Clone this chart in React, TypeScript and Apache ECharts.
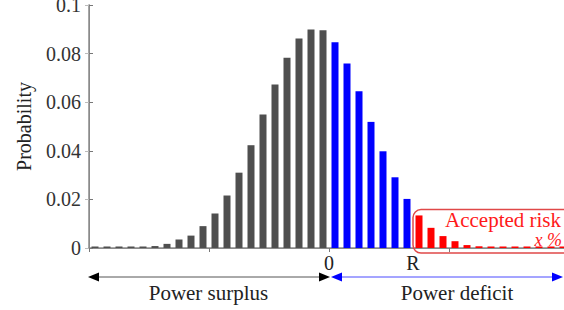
import React, { useEffect, useRef } from "react";
import * as echarts from "echarts";

// Probability of each power bin (left → right)
const surplusValues = [
  0.0003, 0.0003, 0.0003, 0.0003, 0.0003, 0.0008, 0.0017, 0.0035, 0.0051, 0.009,
  0.0142, 0.0216, 0.031, 0.0423, 0.0549, 0.0673, 0.0783, 0.0862, 0.0899, 0.0896,
];
const deficitValues = [0.0847, 0.0759, 0.0645, 0.0519, 0.0398, 0.0291, 0.0202];
const riskValues = [
  0.0134, 0.0083, 0.0049, 0.0028, 0.0012, 0.0007, 0.0003, 0.0003, 0.0003, 0.0003,
  0.0003, 0.0003, 0.0003,
];
const boundaryLabels = ["0", "R"];
const yAxisTitle = "Probability";
const surplusText = "Power surplus";
const deficitText = "Power deficit";
const riskText = "Accepted risk";
const riskPercentText = "x %";

const FONT = "serif";

export default function App() {
  const ref = useRef<HTMLDivElement>(null);

  useEffect(() => {
    if (!ref.current) return;
    const chart = echarts.init(ref.current, undefined, { renderer: "svg" });

    const nSur = surplusValues.length;
    const nDef = deficitValues.length;
    const nAll = nSur + nDef + riskValues.length;
    const zeroPos = nSur;
    const rPos = nSur + nDef;
    const toData = (arr: number[], offset: number) =>
      arr.map((v, i) => [offset + i + 0.5, v]);

    const barCommon = {
      type: "bar" as const,
      barWidth: 7,
      barGap: "-100%",
      barMinHeight: 1.5,
      silent: true,
    };

    chart.setOption({
      animation: false,
      backgroundColor: "#ffffff",
      textStyle: { fontFamily: FONT },
      grid: { left: 89, right: -5, top: 5, bottom: 62, outerBoundsMode: "none" },
      xAxis: [
        {
          type: "value",
          min: 0,
          max: nAll,
          position: "bottom",
          axisLine: { show: true, lineStyle: { color: "#8a8a8a", width: 1 } },
          axisTick: { show: false },
          splitLine: { show: false },
          axisLabel: {
            customValues: [zeroPos, rPos],
            formatter: (v: number) => (v === zeroPos ? boundaryLabels[0] : boundaryLabels[1]),
            fontSize: 20,
            fontFamily: FONT,
            color: "#222",
            margin: 5,
          },
        },
        {
          type: "value",
          min: 0,
          max: nAll,
          interval: 10,
          position: "top",
          axisLine: { show: true, lineStyle: { color: "#8a8a8a", width: 1.5 } },
          axisTick: { show: true, inside: true, length: 4, lineStyle: { color: "#777" } },
          axisLabel: { show: false },
          splitLine: { show: false },
        },
      ],
      yAxis: [
        {
          type: "value",
          min: 0,
          max: 0.1,
          interval: 0.02,
          name: yAxisTitle,
          nameLocation: "middle",
          nameGap: 55,
          nameTextStyle: { fontSize: 20, fontFamily: FONT, color: "#222" },
          axisLine: { show: true, lineStyle: { color: "#8a8a8a", width: 1.5 } },
          axisTick: { show: true, inside: true, length: 4, lineStyle: { color: "#777" } },
          axisLabel: { fontSize: 20, fontFamily: FONT, color: "#333", margin: 8 },
          splitLine: { show: false },
        },
        {
          type: "value",
          min: 0,
          max: 0.1,
          interval: 0.02,
          position: "right",
          axisLine: { show: true, lineStyle: { color: "#8a8a8a" } },
          axisTick: { show: true, inside: true, length: 4, lineStyle: { color: "#bbb" } },
          axisLabel: { show: false },
          splitLine: { show: false },
        },
      ],
      series: [
        { ...barCommon, name: "surplus", data: toData(surplusValues, 0), itemStyle: { color: "#4f4f4f" } },
        { ...barCommon, name: "deficit", data: toData(deficitValues, nSur), itemStyle: { color: "#0000ff" } },
        { ...barCommon, name: "risk", data: toData(riskValues, nSur + nDef), itemStyle: { color: "#ff0000" } },
      ],
    });

    const px = (v: number) => chart.convertToPixel({ xAxisIndex: 0 }, v) as number;
    const py = (v: number) => chart.convertToPixel({ yAxisIndex: 0 }, v) as number;
    const W = chart.getWidth();
    const xLeft = px(0) - 1;
    const xZero = px(zeroPos);
    const xR = px(rPos);
    const xRight = Math.min(px(nAll), W - 1);
    const yArrow = 277;
    const aL = 11;
    const aH = 4.5;

    chart.setOption({
      graphic: [
        // Power surplus arrow
        { type: "line", shape: { x1: xLeft + aL, y1: yArrow, x2: xZero + 1 - aL, y2: yArrow }, style: { stroke: "#555", lineWidth: 1 } },
        { type: "polygon", shape: { points: [[xLeft, yArrow], [xLeft + aL, yArrow - aH], [xLeft + aL, yArrow + aH]] }, style: { fill: "#000" } },
        { type: "polygon", shape: { points: [[xZero + 1, yArrow], [xZero + 1 - aL, yArrow - aH], [xZero + 1 - aL, yArrow + aH]] }, style: { fill: "#000" } },
        // Power deficit arrow
        { type: "line", shape: { x1: xZero + 2 + aL, y1: yArrow, x2: xRight - aL, y2: yArrow }, style: { stroke: "#4a4aff", lineWidth: 1 } },
        { type: "polygon", shape: { points: [[xZero + 2, yArrow], [xZero + 2 + aL, yArrow - aH], [xZero + 2 + aL, yArrow + aH]] }, style: { fill: "#0000ff" } },
        { type: "polygon", shape: { points: [[xRight, yArrow], [xRight - aL, yArrow - aH], [xRight - aL, yArrow + aH]] }, style: { fill: "#0000ff" } },
        {
          type: "text",
          x: (xLeft + xZero) / 2,
          y: 293,
          style: { text: surplusText, fontSize: 21, fontFamily: FONT, fill: "#222", align: "center", verticalAlign: "middle" },
        },
        {
          type: "text",
          x: (xZero + xRight) / 2 + 11,
          y: 293,
          style: { text: deficitText, fontSize: 21, fontFamily: FONT, fill: "#222", align: "center", verticalAlign: "middle" },
        },
        // Accepted risk box
        {
          type: "rect",
          shape: { x: xR, y: py(0.0158), width: 170, height: py(0) - py(0.0158) + 5, r: 8 },
          style: { fill: "none", stroke: "#e04848", lineWidth: 1.5 },
          z: 10,
        },
        {
          type: "text",
          x: xR + 32,
          y: 220,
          style: { text: riskText, fontSize: 21, fontFamily: FONT, fill: "#ff1a1a", align: "left", verticalAlign: "middle" },
          z: 11,
        },
        {
          type: "text",
          x: W - 2,
          y: 240,
          style: { text: riskPercentText, fontSize: 18, fontFamily: FONT, fontStyle: "italic", fill: "#ff1a1a", align: "right", verticalAlign: "middle" },
          z: 11,
        },
      ],
    });

    return () => chart.dispose();
  }, []);

  return (
    <div style={{ position: "absolute", left: 0, top: 0, width: 564, height: 310, overflow: "hidden", background: "#fff" }}>
      <div ref={ref} style={{ width: 564, height: 310 }} />
    </div>
  );
}
